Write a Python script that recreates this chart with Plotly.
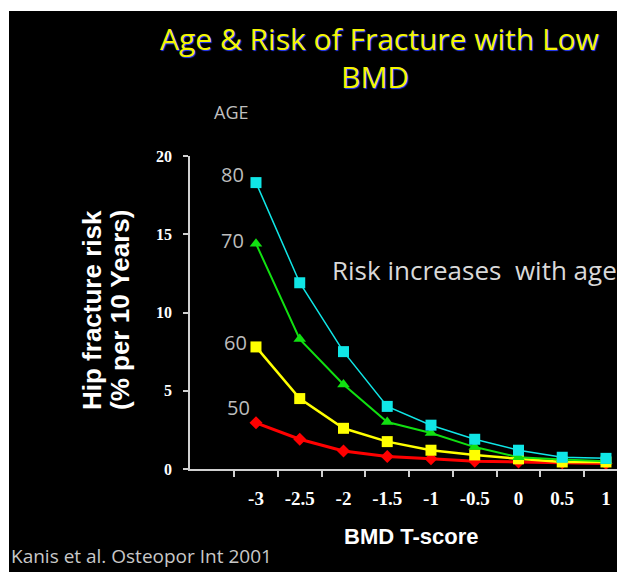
import plotly.graph_objects as go

# ---- data ----
t_score = [-3, -2.5, -2, -1.5, -1, -0.5, 0, 0.5, 1]
tick_labels = ["-3", "-2.5", "-2", "-1.5", "-1", "-0.5", "0", "0.5", "1"]
boundary_ticks = [-3.25, -2.75, -2.25, -1.75, -1.25, -0.75, -0.25, 0.25, 0.75]
age50 = [2.95, 1.9, 1.15, 0.8, 0.65, 0.5, 0.45, 0.4, 0.35]
age60 = [7.8, 4.5, 2.6, 1.75, 1.2, 0.9, 0.65, 0.45, 0.45]
age70 = [14.4, 8.3, 5.4, 3.0, 2.3, 1.4, 0.75, 0.6, 0.5]
age80 = [18.3, 11.9, 7.5, 4.0, 2.8, 1.9, 1.2, 0.75, 0.68]
y_ticks = [0, 5, 10, 15, 20]

# page has an 8px body margin: figure is placed at (8, 8)
OX, OY = 8, 8
W, H = 617, 564
L, R, T, B = 182, 3, 148, 103
PW = W - L - R
PH = H - T - B


def px(x):  # screen x -> paper fraction
    return (x - OX - L) / PW


def py(y):  # screen y -> paper fraction
    return (H - B - (y - OY)) / PH


fig = go.Figure()

series = [
    ("50", age50, "#FF0000", 3, "diamond", 10),
    ("60", age60, "#FFFF00", 2.5, "square", 11),
    ("70", age70, "#11E011", 2, "triangle-up", 11),
    ("80", age80, "#10E6E6", 1.5, "square", 11),
]
for name, vals, col, lw, sym, ms in series:
    fig.add_trace(go.Scatter(
        x=t_score, y=vals, mode="lines+markers", name=name,
        line=dict(color=col, width=lw),
        marker=dict(symbol=sym, size=ms, color=col),
        cliponaxis=False,
    ))

axis_col = "#D0D0D0"
fig.update_layout(
    width=W, height=H,
    margin=dict(l=L, r=R, t=T, b=B, pad=0),
    paper_bgcolor="white",
    plot_bgcolor="black",
    showlegend=False,
    xaxis=dict(
        range=[-3.754, 1.183], showgrid=False, zeroline=False,
        showline=True, linecolor=axis_col, linewidth=1.5,
        tickmode="array", tickvals=t_score, ticktext=tick_labels,
        ticks="", ticklabelstandoff=11,
        tickfont=dict(family="Liberation Serif", size=19, color="white", weight="bold"),
        minor=dict(tickmode="array", tickvals=boundary_ticks, ticks="outside",
                   ticklen=6, tickwidth=1.5, tickcolor=axis_col, showgrid=False),
    ),
    yaxis=dict(
        range=[0, 20], showgrid=False, zeroline=False,
        showline=True, linecolor=axis_col, linewidth=1.5,
        tickmode="array", tickvals=y_ticks,
        ticks="outside", ticklen=5, tickwidth=1.5, tickcolor=axis_col,
        ticklabelstandoff=8,
        tickfont=dict(family="Liberation Serif", size=16, color="white", weight="bold"),
    ),
)

# black slide background with thin white borders
fig.add_shape(type="rect", xref="paper", yref="paper",
              x0=px(9), x1=px(622), y0=py(590), y1=py(11),
              fillcolor="black", line=dict(width=0), layer="below")


def note(text, x, y, size, color, family="Open Sans", weight="normal", angle=0,
         xanchor="center", yanchor="middle", shadow=None):
    f = dict(family=family, size=size, color=color, weight=weight)
    if shadow:
        f["shadow"] = shadow
    fig.add_annotation(text=text, x=px(x), y=py(y), xref="paper", yref="paper",
                       showarrow=False, font=f, textangle=angle,
                       xanchor=xanchor, yanchor=yanchor)


shadow = "1px 1px 1px #2a3dff"
note("Age &amp; Risk of Fracture with Low", 379, 38, 30, "#F5F500", shadow=shadow)
note("BMD", 375, 77, 30, "#F5F500", shadow=shadow)
note("AGE", 231, 112, 18, "#BFBFBF")
grey = "#BDBDBD"
note("80", 232, 174, 20, grey)
note("70", 232, 240, 20, grey)
note("60", 235, 342, 20, grey)
note("50", 238, 407, 20, grey)
note("Risk increases  with age", 474, 270, 26, "#D9D9D9")
note("Hip fracture risk", 92, 310, 26, "white", family="Liberation Sans", weight="bold", angle=-90)
note("(% per 10 Years)", 120, 310, 26, "white", family="Liberation Sans", weight="bold", angle=-90)
note("BMD T-score", 411, 536, 22, "white", family="Liberation Sans", weight="bold")
note("Kanis et al. Osteopor Int 2001", 9, 571, 19, "#C8C8C8", xanchor="left", yanchor="bottom")

fig.write_html("out.html")
